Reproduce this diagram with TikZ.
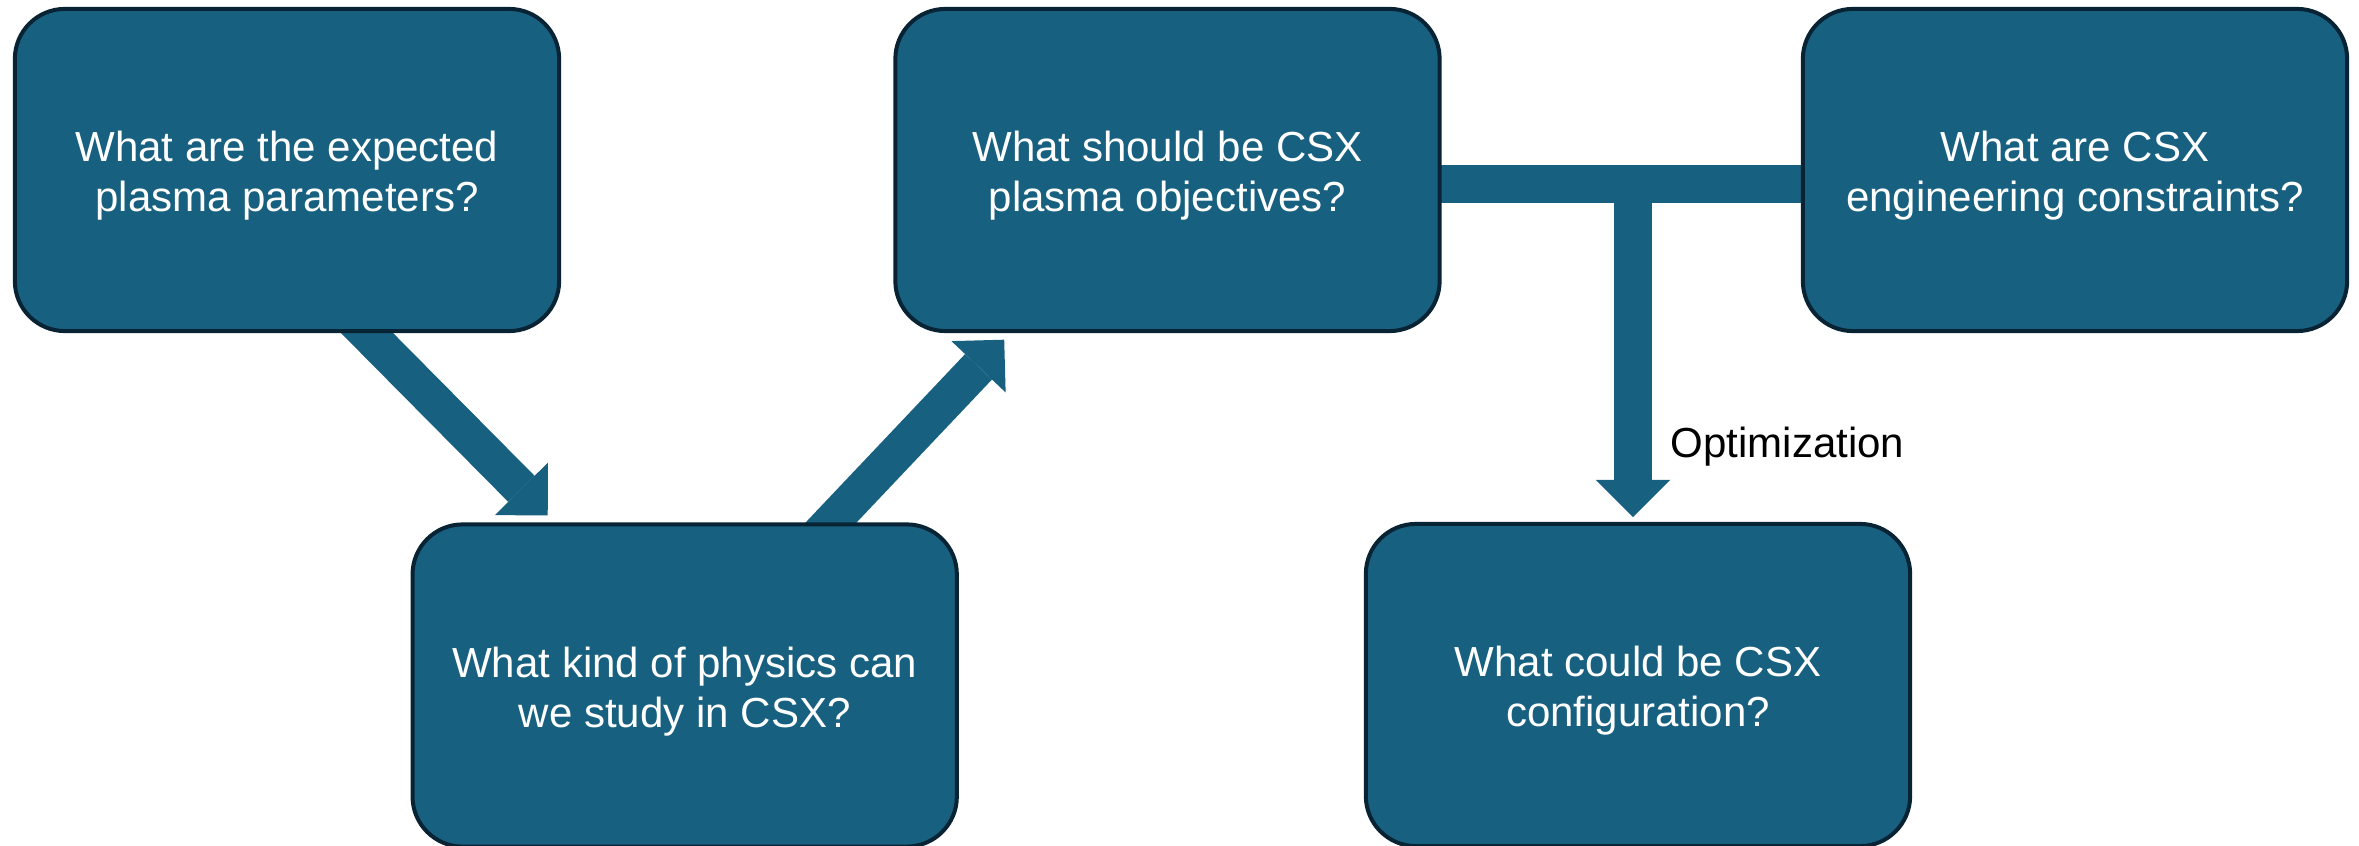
\documentclass[tikz,border=0pt]{standalone}
\usepackage{fontspec}
\setmainfont{Liberation Sans}
\usetikzlibrary{arrows.meta}
\definecolor{boxfill}{RGB}{24,96,128}
\definecolor{boxline}{RGB}{8,36,52}
\pgfdeclarelayer{background}
\pgfsetlayers{background,main}
\begin{document}
\begin{tikzpicture}[x=0.01cm,y=-0.01cm,
  qbox/.style={draw=boxline, fill=boxfill, line width=0.04cm, rounded corners=0.5cm,
    minimum width=5.44cm, minimum height=3.22cm, align=center, text=white,
    font=\fontsize{11.95pt}{14.23pt}\selectfont, inner sep=0pt},
  flow/.style={draw=boxfill, line width=0.37cm,
    -{Triangle[length=0.373cm,width=0.746cm,line width=0pt]}},
  barline/.style={draw=boxfill, line width=0.38cm},
  lbl/.style={font=\fontsize{11.95pt}{14.23pt}\selectfont, text=black, inner sep=0pt, anchor=base west}
]
\useasboundingbox (0,0) rectangle (2359,846);
\node[qbox] (b1) at (287,170) {\rule{0pt}{0.42cm}What are the expected\\plasma parameters?};
\node[qbox] (b3) at (1167.5,170) {\rule{0pt}{0.42cm}What should be CSX\\plasma objectives?};
\node[qbox] (b4) at (2075,170) {\rule{0pt}{0.42cm}What are CSX\\engineering constraints?};
\node[qbox] (b2) at (684.7,685.5) {\rule{0pt}{0.42cm}What kind of physics can\\we study in CSX?};
\node[qbox] (b5) at (1638,685) {\rule{0pt}{0.42cm}What could be CSX\\configuration?};
\coordinate (a1s) at ([xshift=0.503cm,yshift=0.30cm]b1.south);
\coordinate (a1t) at ([xshift=1.371cm,yshift=0.07cm]b2.north west);
\coordinate (a2s) at ([xshift=1.194cm,yshift=-0.285cm]b2.north);
\coordinate (a2t) at ([xshift=-1.632cm,yshift=-0.066cm]b3.south);
\coordinate (barL) at ([xshift=-0.3cm,yshift=-0.14cm]b3.east);
\coordinate (barR) at ([xshift=0.3cm,yshift=-0.14cm]b4.west);
\coordinate (optTip) at ([xshift=-0.05cm,yshift=0.047cm]b5.north);
\begin{pgfonlayer}{background}
\draw[flow] (a1s) -- (a1t);
\draw[flow] (a2s) -- (a2t);
\draw[barline] (barL) -- (barR);
\draw[flow, line width=0.38cm] (optTip |- barL) -- (optTip);
\end{pgfonlayer}
\node[lbl] (opt) at (1670,458) {Optimization};
\end{tikzpicture}
\end{document}
